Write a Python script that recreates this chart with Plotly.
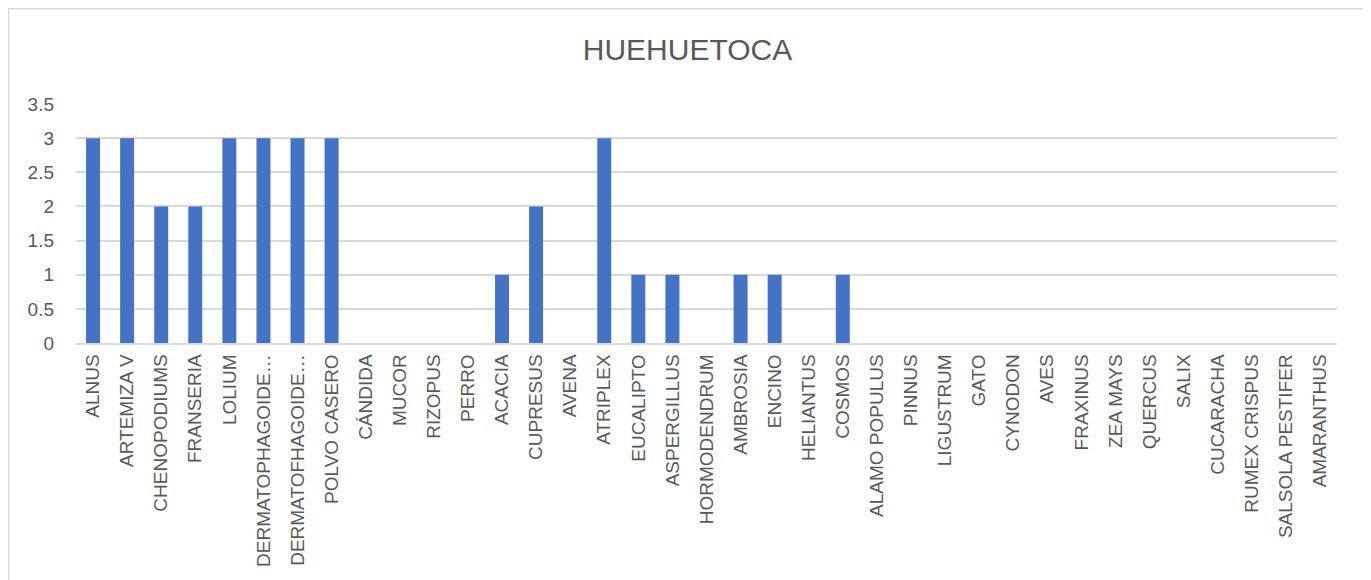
import plotly.graph_objects as go

categorias = ['ALNUS', 'ARTEMIZA V', 'CHENOPODIUMS', 'FRANSERIA', 'LOLIUM',
              'DERMATOPHAGOIDE…', 'DERMATOFHAGOIDE…', 'POLVO CASERO', 'CÁNDIDA',
              'MUCOR', 'RIZOPUS', 'PERRO', 'ACACIA', 'CUPRESUS', 'AVENA',
              'ATRIPLEX', 'EUCALIPTO', 'ASPERGILLUS', 'HORMODENDRUM', 'AMBROSIA',
              'ENCINO', 'HELIANTUS', 'COSMOS', 'ALAMO POPULUS', 'PINNUS',
              'LIGUSTRUM', 'GATO', 'CYNODON', 'AVES', 'FRAXINUS', 'ZEA MAYS',
              'QUERCUS', 'SALIX', 'CUCARACHA', 'RUMEX CRISPUS', 'SALSOLA PESTIFER',
              'AMARANTHUS']
valores = [3, 3, 2, 2, 3, 3, 3, 3, 0, 0, 0, 0, 1, 2, 0, 3, 1, 1, 0, 1, 1, 0, 1,
           0, 0, 0, 0, 0, 0, 0, 0, 0, 0, 0, 0, 0, 0]
ticks_y = [0, 0.5, 1, 1.5, 2, 2.5, 3, 3.5]

fuente = 'Liberation Sans'
gris = '#595959'

fig = go.Figure()
fig.add_trace(go.Bar(x=categorias, y=valores, marker_color='#4472C4',
                     marker_line_width=0))

fig.update_layout(
    width=1371, height=580,
    margin=dict(l=68, r=42, t=96, b=245),
    paper_bgcolor='white', plot_bgcolor='white',
    bargap=0.59,
    showlegend=False,
    font=dict(family=fuente, color=gris, size=19),
    title=dict(text='HUEHUETOCA', x=0.4956, xanchor='center', y=0.9276, yanchor='middle',
               font=dict(family=fuente, size=30, color=gris)),
)
fig.update_xaxes(tickangle=-90, showgrid=False, showline=True, linecolor='#d9d9d9',
                 linewidth=1.5, ticks='', tickfont=dict(size=19, color=gris),
                 ticklabelstandoff=2)
fig.update_yaxes(range=[0, 3.5], tickvals=ticks_y, ticktext=[str(t) for t in ticks_y],
                 showgrid=True, gridcolor='#d9d9d9', gridwidth=1.5, zeroline=False,
                 showline=False, ticks='', tickfont=dict(size=19, color=gris),
                 ticklabelstandoff=21)

# marco exterior del grafico
fig.add_shape(type='rect', xref='paper', yref='paper',
              x0=-0.0535, x1=1.023, y0=-1.05, y1=1.3985,
              line=dict(color='#d9d9d9', width=1.5), fillcolor='rgba(0,0,0,0)',
              layer='below')

fig.write_html('out.html')
